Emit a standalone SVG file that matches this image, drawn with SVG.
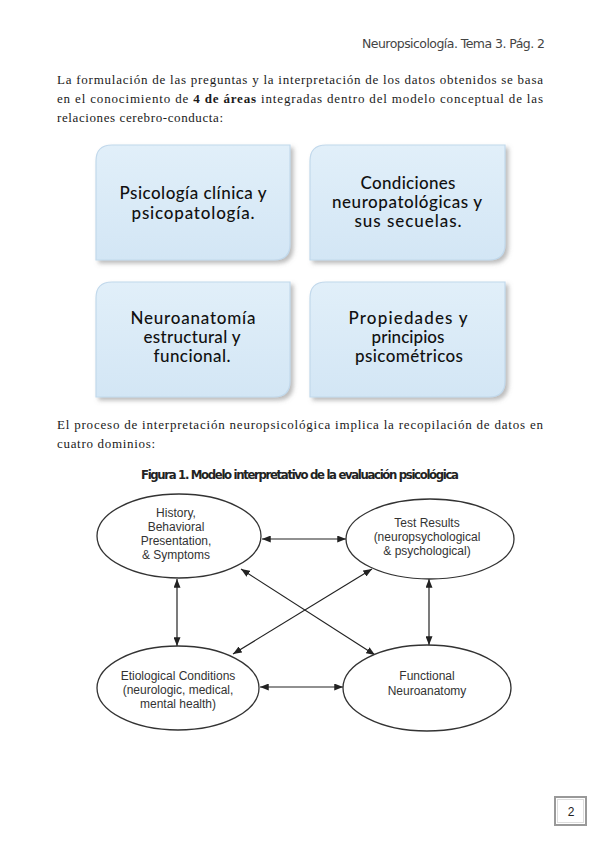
<svg xmlns="http://www.w3.org/2000/svg" width="599" height="848" viewBox="0 0 599 848">
<style>
.hdr{font-family:"DejaVu Sans","Liberation Sans",sans-serif;font-size:12.5px;fill:#444}
.para{font-family:"Liberation Serif",serif;font-size:13px;fill:#1a1a1a}
.box{fill:url(#bg);stroke:#c2d9ec;stroke-width:1.2;filter:url(#sh)}
.bt{font-family:Lato,"DejaVu Sans",sans-serif;font-size:17px;fill:#111;text-anchor:middle;font-weight:500}
.title{font-family:"DejaVu Sans Condensed","DejaVu Sans",sans-serif;font-weight:bold;font-size:13px;fill:#222;text-anchor:middle}
.ell{fill:#fff;stroke:#333;stroke-width:1.3}
.et{font-family:"Liberation Sans",Arial,sans-serif;font-size:12px;fill:#333;text-anchor:middle}
.arr{stroke:#222;stroke-width:1.2;fill:none;marker-start:url(#ah);marker-end:url(#ah)}
</style>
<defs>
<linearGradient id="bg" x1="0" y1="0" x2="0" y2="1">
<stop offset="0" stop-color="#e1eff9"/>
<stop offset="1" stop-color="#d3e6f5"/>
</linearGradient>
<filter id="sh" x="-10%" y="-10%" width="125%" height="130%">
<feDropShadow dx="3" dy="3" stdDeviation="2" flood-color="#7a7a7a" flood-opacity="0.5"/>
</filter>
<marker id="ah" viewBox="0 0 10 8" refX="10" refY="4" markerWidth="9" markerHeight="7" markerUnits="userSpaceOnUse" orient="auto-start-reverse">
<path d="M0,0 L10,4 L0,8 Z" fill="#222"/>
</marker>
</defs>
<rect width="599" height="848" fill="#fff"/>

<text class="hdr" x="362" y="48" textLength="183">Neuropsicología. Tema 3. Pág. 2</text>

<text class="para" x="57" y="84" textLength="486">La formulación de las preguntas y la interpretación de los datos obtenidos se basa</text>
<text class="para" x="57" y="103" textLength="486">en el conocimiento de <tspan font-weight="bold">4 de áreas</tspan> integradas dentro del modelo conceptual de las</text>
<text class="para" x="57" y="122" textLength="166">relaciones cerebro-conducta:</text>

<g id="box1">
<path class="box" d="M112 145 H290 V244 Q290 260 274 260 H96 V161 Q96 145 112 145 Z"/>
<text class="bt" x="193" y="199" textLength="147">Psicología clínica y</text>
<text class="bt" x="193" y="219" textLength="123">psicopatología.</text>
</g>
<g id="box2">
<path class="box" d="M326 145 H505 V244 Q505 260 489 260 H310 V161 Q310 145 326 145 Z"/>
<text class="bt" x="408" y="189" textLength="95">Condiciones</text>
<text class="bt" x="407" y="208" textLength="150">neuropatológicas y</text>
<text class="bt" x="408" y="227" textLength="107">sus secuelas.</text>
</g>
<g id="box3">
<path class="box" d="M112 282 H290 V381 Q290 397 274 397 H96 V298 Q96 282 112 282 Z"/>
<text class="bt" x="193" y="324" textLength="125">Neuroanatomía</text>
<text class="bt" x="192" y="343" textLength="97">estructural y</text>
<text class="bt" x="192" y="362" textLength="77">funcional.</text>
</g>
<g id="box4">
<path class="box" d="M326 282 H505 V381 Q505 397 489 397 H310 V298 Q310 282 326 282 Z"/>
<text class="bt" x="408" y="324" textLength="119">Propiedades y</text>
<text class="bt" x="408" y="343" textLength="73">principios</text>
<text class="bt" x="409" y="362" textLength="108">psicométricos</text>
</g>

<text class="para" x="57" y="429" textLength="486">El proceso de interpretación neuropsicológica implica la recopilación de datos en</text>
<text class="para" x="57" y="448" textLength="98">cuatro dominios:</text>

<text class="title" x="300" y="479" textLength="318">Figura 1. Modelo interpretativo de la evaluación psicológica</text>

<g id="connectors">
<line class="arr" x1="262" y1="539" x2="346" y2="539"/>
<line class="arr" x1="260" y1="687" x2="343" y2="687"/>
<line class="arr" x1="177" y1="579" x2="177" y2="646"/>
<line class="arr" x1="429" y1="579" x2="429" y2="645"/>
<line class="arr" x1="241" y1="569" x2="375" y2="655"/>
<line class="arr" x1="372" y1="569" x2="233" y2="654"/>
</g>

<g id="history">
<ellipse class="ell" cx="179" cy="536" rx="82" ry="42"/>
<text class="et" x="176" y="517">History,</text>
<text class="et" x="176" y="531">Behavioral</text>
<text class="et" x="176" y="545">Presentation,</text>
<text class="et" x="176" y="559">&amp; Symptoms</text>
</g>
<g id="test">
<ellipse class="ell" cx="430" cy="539" rx="84" ry="40"/>
<text class="et" x="427" y="527">Test Results</text>
<text class="et" x="427" y="541">(neuropsychological</text>
<text class="et" x="427" y="555">&amp; psychological)</text>
</g>
<g id="etiological">
<ellipse class="ell" cx="178" cy="688" rx="81" ry="42"/>
<text class="et" x="178" y="680">Etiological Conditions</text>
<text class="et" x="178" y="694">(neurologic, medical,</text>
<text class="et" x="178" y="708">mental health)</text>
</g>
<g id="functional">
<ellipse class="ell" cx="427" cy="688" rx="84" ry="43"/>
<text class="et" x="427" y="680">Functional</text>
<text class="et" x="427" y="695">Neuroanatomy</text>
</g>

<g id="pagenum">
<rect x="555" y="797" width="31" height="28" fill="#fff" stroke="#999" stroke-width="2"/>
<rect x="557.5" y="799.5" width="26" height="23" fill="none" stroke="#ddd" stroke-width="1"/>
<text x="571" y="816" font-family="Liberation Sans,Arial,sans-serif" font-size="12" fill="#222" text-anchor="middle">2</text>
</g>
</svg>
